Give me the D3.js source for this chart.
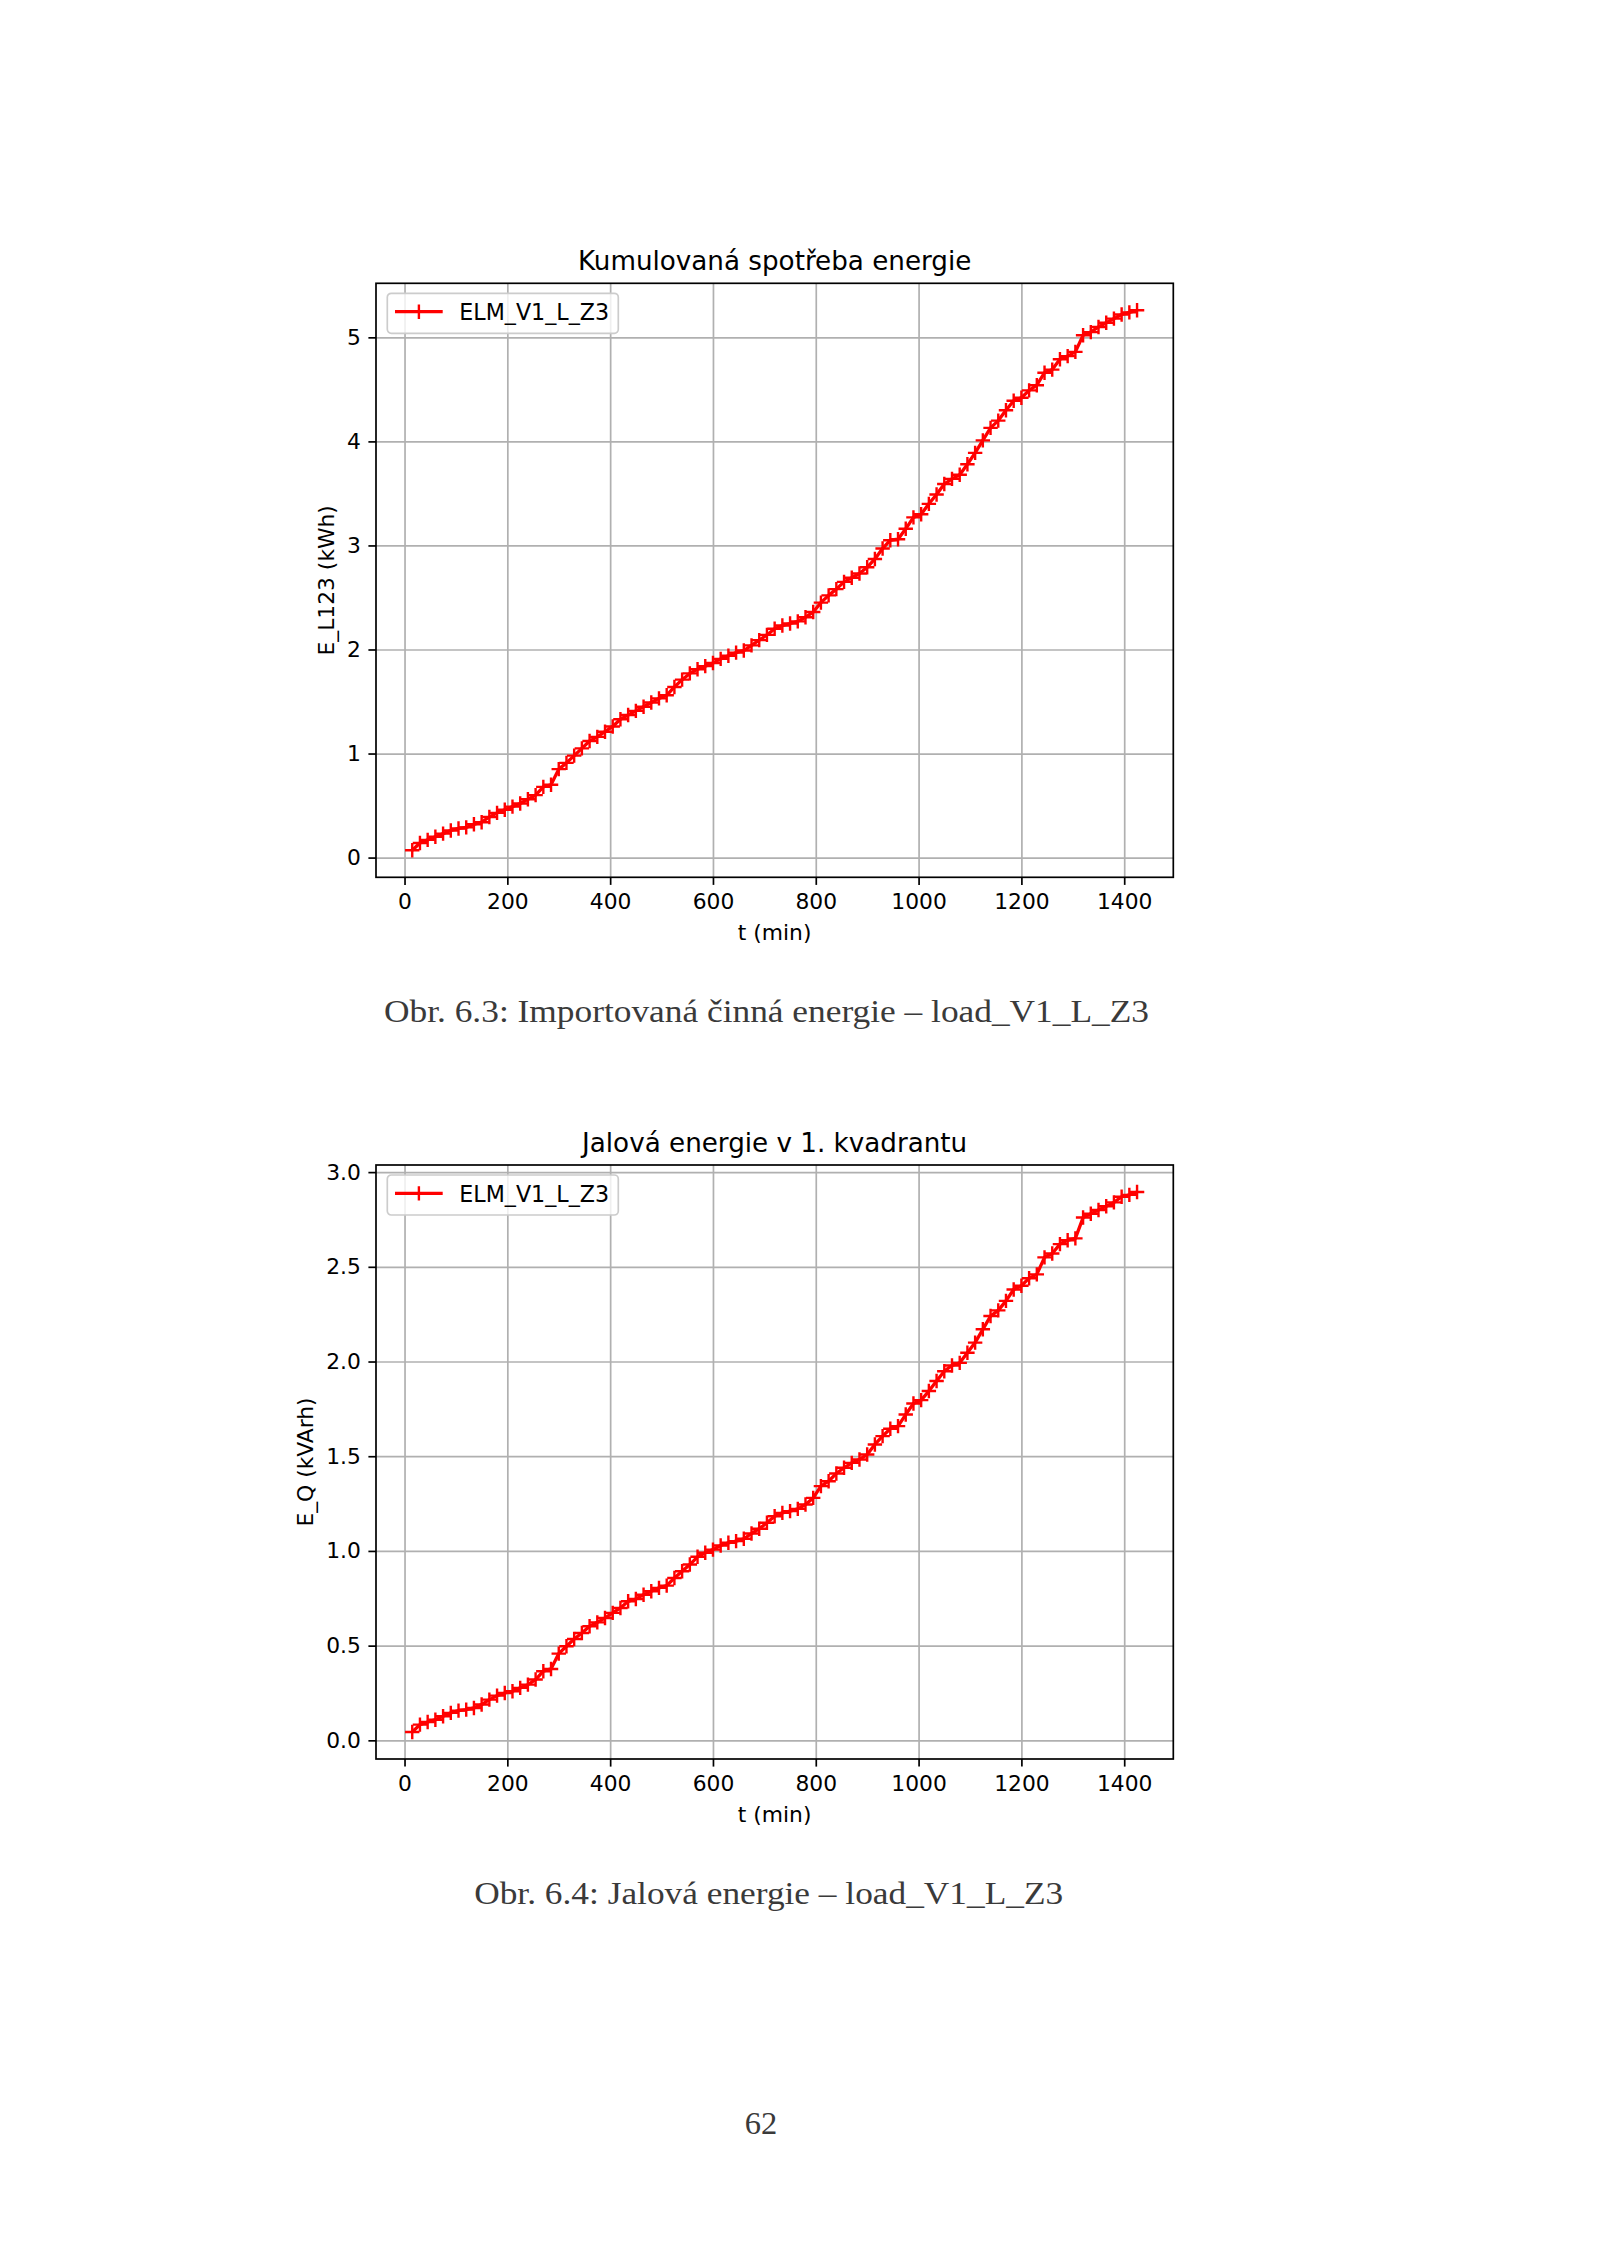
<!DOCTYPE html>
<html>
<head>
<meta charset="utf-8">
<script src="https://d3js.org/d3.v7.min.js"></script>
<style>
  body { margin: 0; background: #fff; }
  svg text { font-family: "DejaVu Sans", sans-serif; }
  .caption { font-family: "Liberation Serif", serif; }
</style>
</head>
<body>
<div id="wrapper"></div>
<script>
// t in minutes, one sample every 15 min
const times = [
  15, 30, 45, 60, 75, 90, 105, 120, 135, 150, 165, 180, 195, 210, 225, 240,
  255, 270, 285, 300, 315, 330, 345, 360, 375, 390, 405, 420, 435, 450, 465,
  480, 495, 510, 525, 540, 555, 570, 585, 600, 615, 630, 645, 660, 675, 690,
  705, 720, 735, 750, 765, 780, 795, 810, 825, 840, 855, 870, 885, 900, 915,
  930, 945, 960, 975, 990, 1005, 1020, 1035, 1050, 1065, 1080, 1095, 1110,
  1125, 1140, 1155, 1170, 1185, 1200, 1215, 1230, 1245, 1260, 1275, 1290,
  1305, 1320, 1335, 1350, 1365, 1380, 1395, 1410, 1425
]

// E_L123 (kWh)
const activeEnergy = [
  0.07, 0.14, 0.17, 0.20, 0.23, 0.26, 0.28, 0.29, 0.32, 0.34, 0.39, 0.43,
  0.46, 0.49, 0.52, 0.56, 0.60, 0.68, 0.70, 0.85, 0.91, 0.98, 1.05, 1.12,
  1.16, 1.21, 1.26, 1.33, 1.37, 1.41, 1.45, 1.49, 1.53, 1.56, 1.64, 1.71,
  1.77, 1.81, 1.84, 1.87, 1.91, 1.94, 1.97, 1.99, 2.04, 2.09, 2.14, 2.20,
  2.23, 2.25, 2.27, 2.31, 2.36, 2.45, 2.52, 2.58, 2.65, 2.69, 2.73, 2.79,
  2.87, 2.97, 3.05, 3.06, 3.16, 3.27, 3.30, 3.40, 3.49, 3.59, 3.64, 3.68,
  3.78, 3.89, 4.01, 4.13, 4.20, 4.30, 4.39, 4.42, 4.49, 4.54, 4.66, 4.69,
  4.79, 4.82, 4.86, 5.02, 5.05, 5.10, 5.14, 5.18, 5.22, 5.24, 5.26
]

// E_Q (kVArh)
const reactiveEnergy = [
  0.044, 0.083, 0.097, 0.109, 0.127, 0.145, 0.157, 0.162, 0.171, 0.189,
  0.215, 0.236, 0.250, 0.259, 0.277, 0.294, 0.321, 0.365, 0.377, 0.458,
  0.497, 0.535, 0.567, 0.602, 0.623, 0.646, 0.673, 0.699, 0.734, 0.746,
  0.769, 0.787, 0.805, 0.817, 0.857, 0.893, 0.928, 0.969, 0.990, 1.007,
  1.029, 1.043, 1.052, 1.064, 1.092, 1.117, 1.149, 1.183, 1.201, 1.210,
  1.222, 1.245, 1.280, 1.342, 1.368, 1.409, 1.439, 1.465, 1.483, 1.509,
  1.562, 1.606, 1.645, 1.659, 1.720, 1.778, 1.796, 1.844, 1.897, 1.949,
  1.979, 1.993, 2.046, 2.10, 2.17, 2.24, 2.27, 2.32, 2.38, 2.40,
  2.44, 2.46, 2.55, 2.57, 2.62, 2.64, 2.65, 2.76, 2.78, 2.80,
  2.82, 2.84, 2.87, 2.88, 2.895
]

const xTicks = [0, 200, 400, 600, 800, 1000, 1200, 1400]
const activeTicks = [0, 1, 2, 3, 4, 5]
const reactiveTicks = [0, 0.5, 1.0, 1.5, 2.0, 2.5, 3.0]
const seriesName = 'ELM_V1_L_Z3'

const page = { width: 1600, height: 2263 }
const fontSize = 21.8   // 10 pt at this scale

const svg = d3.select('#wrapper')
  .append('svg')
    .attr('width', page.width)
    .attr('height', page.height)

svg.append('rect')
    .attr('width', page.width)
    .attr('height', page.height)
    .attr('fill', '#fff')

function drawChart(opts) {
  const dimensions = {
    left: 376,
    top: opts.top,
    boundedWidth: 797.3,
    boundedHeight: 594,
  }
  const data = times.map((t, i) => ({ t, v: opts.values[i] }))
  const xAccessor = d => d.t
  const yAccessor = d => d.v

  // matplotlib style 5% margins
  const pad = ext => {
    const m = (ext[1] - ext[0]) * 0.05
    return [ext[0] - m, ext[1] + m]
  }

  const xScale = d3.scaleLinear()
      .domain(pad(d3.extent(data, xAccessor)))
      .range([0, dimensions.boundedWidth])
  const yScale = d3.scaleLinear()
      .domain(pad(d3.extent(data, yAccessor)))
      .range([dimensions.boundedHeight, 0])

  const bounds = svg.append('g')
      .attr('transform', `translate(${dimensions.left}, ${dimensions.top})`)

  // grid
  const xGrid = bounds.append('g')
      .attr('transform', `translate(0, ${dimensions.boundedHeight})`)
      .call(d3.axisBottom(xScale).tickValues(xTicks)
        .tickSize(-dimensions.boundedHeight).tickFormat(''))
  const yGrid = bounds.append('g')
      .call(d3.axisLeft(yScale).tickValues(opts.yTicks)
        .tickSize(-dimensions.boundedWidth).tickFormat(''))
  ;[xGrid, yGrid].forEach(g => {
    g.select('.domain').remove()
    g.selectAll('line')
        .attr('stroke', '#b0b0b0')
        .attr('stroke-width', 1.7)
  })

  // data
  const lineGenerator = d3.line()
      .x(d => xScale(xAccessor(d)))
      .y(d => yScale(yAccessor(d)))

  bounds.append('path')
      .attr('d', lineGenerator(data))
      .attr('fill', 'none')
      .attr('stroke', '#ff0000')
      .attr('stroke-width', 3.3)
      .attr('stroke-linejoin', 'round')

  const plus = 'M-7.2,0H7.2M0,-7.2V7.2'
  bounds.append('g')
    .selectAll('path')
    .data(data)
    .join('path')
      .attr('d', plus)
      .attr('transform', d => `translate(${xScale(xAccessor(d))}, ${yScale(yAccessor(d))})`)
      .attr('fill', 'none')
      .attr('stroke', '#ff0000')
      .attr('stroke-width', 2.4)

  // frame
  bounds.append('rect')
      .attr('width', dimensions.boundedWidth)
      .attr('height', dimensions.boundedHeight)
      .attr('fill', 'none')
      .attr('stroke', '#000')
      .attr('stroke-width', 1.7)

  // axes
  const xAxis = bounds.append('g')
      .attr('transform', `translate(0, ${dimensions.boundedHeight})`)
      .call(d3.axisBottom(xScale).tickValues(xTicks)
        .tickSize(7.6).tickPadding(9).tickFormat(d3.format('d')))
  const yAxis = bounds.append('g')
      .call(d3.axisLeft(yScale).tickValues(opts.yTicks)
        .tickSize(7.6).tickPadding(7.6).tickFormat(d3.format(opts.yFormat)))
  ;[xAxis, yAxis].forEach(g => {
    g.select('.domain').remove()
    g.selectAll('line').attr('stroke', '#000').attr('stroke-width', 1.7)
    g.selectAll('text')
        .attr('fill', '#000')
        .style('font-family', '"DejaVu Sans", sans-serif')
        .style('font-size', `${fontSize}px`)
  })

  // labels
  bounds.append('text')
      .attr('x', dimensions.boundedWidth / 2)
      .attr('y', -13.1)
      .attr('text-anchor', 'middle')
      .style('font-size', '26.2px')
      .text(opts.title)

  bounds.append('text')
      .attr('x', dimensions.boundedWidth / 2)
      .attr('y', dimensions.boundedHeight + 62.7)
      .attr('text-anchor', 'middle')
      .style('font-size', `${fontSize}px`)
      .text('t (min)')

  bounds.append('text')
      .attr('transform', `translate(${opts.yLabelX}, ${dimensions.boundedHeight / 2}) rotate(-90)`)
      .attr('text-anchor', 'middle')
      .style('font-size', `${fontSize}px`)
      .text(opts.yLabel)

  // legend
  const legend = bounds.append('g')
      .attr('transform', 'translate(11.3, 10)')
  legend.append('rect')
      .attr('width', 231)
      .attr('height', 40)
      .attr('rx', 4)
      .attr('fill', '#fff')
      .attr('fill-opacity', 0.8)
      .attr('stroke', '#cccccc')
      .attr('stroke-width', 1.7)
  legend.append('line')
      .attr('x1', 7.7).attr('x2', 55.4)
      .attr('y1', 18.4).attr('y2', 18.4)
      .attr('stroke', '#ff0000')
      .attr('stroke-width', 3.3)
  legend.append('path')
      .attr('d', plus)
      .attr('transform', 'translate(31.6, 18.4)')
      .attr('stroke', '#ff0000')
      .attr('stroke-width', 2.4)
  legend.append('text')
      .attr('x', 72)
      .attr('y', 26.5)
      .style('font-size', '22.2px')
      .text(seriesName)
}

drawChart({
  top: 283.3,
  title: 'Kumulovaná spotřeba energie',
  yLabel: 'E_L123 (kWh)',
  values: activeEnergy,
  yTicks: activeTicks,
  yFormat: 'd',
  yLabelX: -42,
})

drawChart({
  top: 1165,
  title: 'Jalová energie v 1. kvadrantu',
  yLabel: 'E_Q (kVArh)',
  values: reactiveEnergy,
  yTicks: reactiveTicks,
  yFormat: '.1f',
  yLabelX: -63.5,
})

// page text (thesis captions)
const pageTexts = [
  { text: 'Obr. 6.3: Importovaná činná energie – load_V1_L_Z3', x: 766.5, y: 1021.7, len: 765 },
  { text: 'Obr. 6.4: Jalová energie – load_V1_L_Z3', x: 768.7, y: 1904, len: 589 },
  { text: '62', x: 761, y: 2134, len: null },
]

svg.selectAll('text.caption')
  .data(pageTexts)
  .join('text')
    .attr('class', 'caption')
    .attr('x', d => d.x)
    .attr('y', d => d.y)
    .attr('text-anchor', 'middle')
    .attr('fill', '#3a3a3a')
    .style('font-size', '32.5px')
    .attr('textLength', d => d.len)
    .attr('lengthAdjust', 'spacingAndGlyphs')
    .text(d => d.text)
</script>
</body>
</html>
